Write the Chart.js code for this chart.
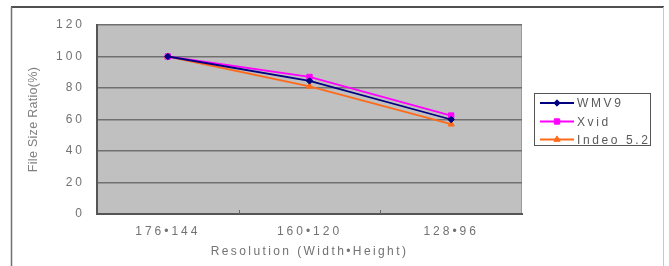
<!DOCTYPE html>
<html>
<head>
<meta charset="utf-8">
<script src="https://cdn.jsdelivr.net/npm/chart.js@4/dist/chart.umd.min.js"></script>
<style>
  html, body { margin: 0; padding: 0; background: #ffffff; }
  canvas { display: block; }
</style>
</head>
<body>
<canvas id="c" width="669" height="266"></canvas>
<script>
const categories = ['176•144', '160•120', '128•96'];
const seriesNames = ['WMV9', 'Xvid', 'Indeo 5.2'];
const wmv9 = [100, 84.5, 60];
const xvid = [100, 87, 62.5];
const indeo = [100, 81, 57];
const yTicks = [0, 20, 40, 60, 80, 100, 120];

const colors = ['#000080', '#ff00ff', '#ff6a1a'];
const styles = ['rectRot', 'rect', 'triangle'];
const radii = [3.2, 3.8, 3.6];
const textColor = '#727272';
const FONT = "'Liberation Sans', Arial, sans-serif";

function spacingTitle(scale, ls) {
  const orig = scale.drawTitle;
  scale.drawTitle = function () {
    const ctx = this.ctx;
    const prev = ctx.letterSpacing;
    ctx.letterSpacing = ls;
    orig.call(this);
    ctx.letterSpacing = prev;
  };
  scale._patched = true;
}

const framePlugin = {
  id: 'frame',
  beforeLayout(chart) { chart.ctx.letterSpacing = '3px'; },
  beforeDraw(chart) {
    const ctx = chart.ctx;
    ctx.letterSpacing = '3px';
    if (!chart.scales.y._patched) spacingTitle(chart.scales.y, '0.3px');
    if (!chart.scales.x._patched) spacingTitle(chart.scales.x, '2.4px');
    const a = chart.chartArea;
    ctx.save();
    ctx.fillStyle = '#ffffff';
    ctx.fillRect(0, 0, chart.width, chart.height);
    // outer frame
    ctx.strokeStyle = '#505050';
    ctx.lineWidth = 2;
    ctx.beginPath(); ctx.moveTo(11, 7); ctx.lineTo(664, 7); ctx.stroke();
    ctx.strokeStyle = '#707070';
    ctx.lineWidth = 1.5;
    ctx.beginPath(); ctx.moveTo(11.5, 7); ctx.lineTo(11.5, 266); ctx.stroke();
    ctx.strokeStyle = '#c8c8c8';
    ctx.lineWidth = 1;
    ctx.beginPath(); ctx.moveTo(663.5, 7); ctx.lineTo(663.5, 266); ctx.stroke();
    // plot background
    ctx.fillStyle = '#c0c0c0';
    ctx.fillRect(a.left, a.top, a.right - a.left, a.bottom - a.top);
    ctx.strokeStyle = '#9a9a9a';
    ctx.lineWidth = 1;
    ctx.beginPath(); ctx.moveTo(a.right - 0.5, a.top); ctx.lineTo(a.right - 0.5, a.bottom); ctx.stroke();
    ctx.restore();
  },
  afterDraw(chart) {
    const ctx = chart.ctx;
    const x = chart.scales.x;
    const a = chart.chartArea;
    ctx.save();
    // small category-boundary tick marks on the x axis
    ctx.strokeStyle = '#666666';
    ctx.lineWidth = 1;
    for (let i = 0; i < categories.length - 1; i++) {
      const px = Math.round((x.getPixelForValue(i) + x.getPixelForValue(i + 1)) / 2) + 0.5;
      ctx.beginPath(); ctx.moveTo(px, a.bottom - 4); ctx.lineTo(px, a.bottom); ctx.stroke();
    }
    // legend
    const bx = 534.5, by = 93.5, bw = 116, bh = 52;
    ctx.strokeStyle = '#555555';
    ctx.lineWidth = 1;
    ctx.strokeRect(bx, by, bw, bh);
    ctx.font = '12px ' + FONT;
    ctx.letterSpacing = '2.6px';
    ctx.textBaseline = 'middle';
    ctx.textAlign = 'left';
    const rows = [103, 121.5, 139.5];
    chart.data.datasets.forEach((ds, i) => {
      const y = rows[i];
      ctx.strokeStyle = ds.borderColor;
      ctx.lineWidth = 1.8;
      ctx.beginPath(); ctx.moveTo(540, y); ctx.lineTo(574, y); ctx.stroke();
      ctx.fillStyle = ds.borderColor;
      ctx.strokeStyle = ds.borderColor;
      ctx.lineWidth = 1;
      Chart.helpers.drawPoint(ctx, {
        pointStyle: ds.pointStyle, radius: ds.pointRadius, borderWidth: 1, rotation: 0
      }, 557, y);
      ctx.fillStyle = '#5a5a5a';
      ctx.fillText(ds.label, 577, y + 1);
    });
    ctx.restore();
  }
};

const seriesData = [wmv9, xvid, indeo];
const chart = new Chart(document.getElementById('c'), {
  type: 'line',
  data: {
    labels: categories,
    datasets: seriesNames.map((name, i) => ({
      label: name,
      data: seriesData[i],
      borderColor: colors[i],
      backgroundColor: colors[i],
      borderWidth: 1.8,
      pointStyle: styles[i],
      pointRadius: radii[i],
      pointBorderWidth: 1,
      tension: 0,
      fill: false
    }))
  },
  plugins: [framePlugin],
  options: {
    responsive: false,
    animation: false,
    devicePixelRatio: 1,
    layout: { padding: { top: 25, right: 147, bottom: 0, left: 0 } },
    plugins: { legend: { display: false }, tooltip: { enabled: false } },
    scales: {
      x: {
        type: 'category',
        offset: true,
        grid: { display: false, drawTicks: false },
        border: { display: true, color: '#555555', width: 2 },
        ticks: { color: textColor, font: { family: FONT, size: 12 }, padding: 10, maxRotation: 0 },
        title: {
          display: true, text: 'Resolution (Width•Height)', color: textColor,
          font: { family: FONT, size: 12 }, padding: { top: 0, bottom: 7 }
        },
        afterFit(s) { s.height = 52; }
      },
      y: {
        min: 0, max: 120,
        afterBuildTicks(s) { s.ticks = yTicks.map(v => ({ value: v })); },
        grid: { color: '#707070', lineWidth: 1.5, drawTicks: false },
        border: { display: true, color: '#555555', width: 2 },
        ticks: { color: textColor, font: { family: FONT, size: 12 }, padding: 12 },
        title: {
          display: true, text: 'File Size Ratio(%)', color: '#808080',
          font: { family: FONT, size: 12.5 }, padding: { top: 26, bottom: 0 }
        },
        afterFit(s) { s.width = 97; }
      }
    }
  }
});
</script>
</body>
</html>
